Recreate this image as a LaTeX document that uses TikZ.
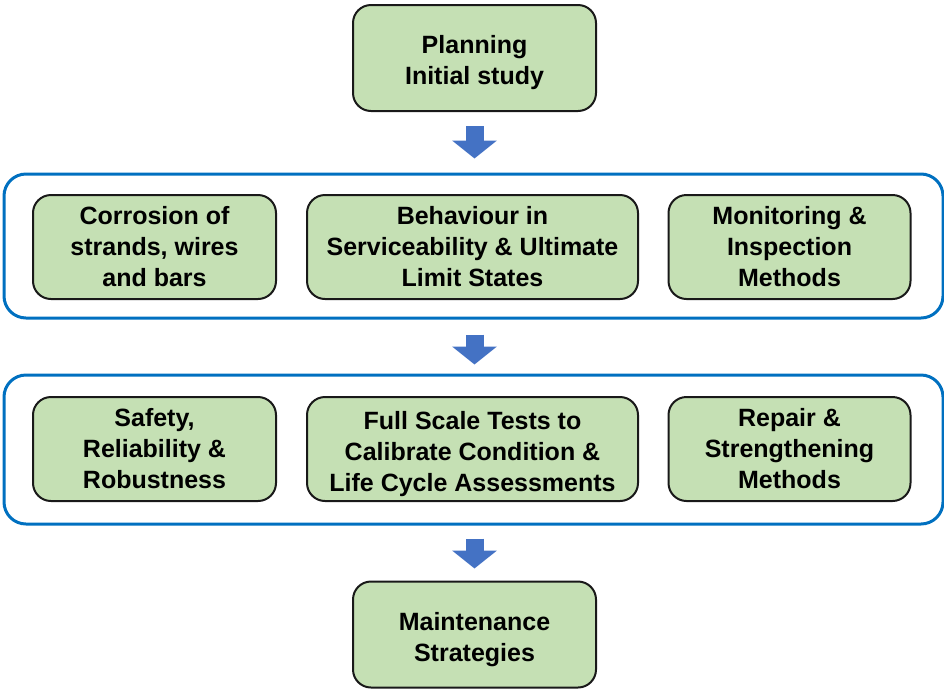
\documentclass[tikz,border=0pt]{standalone}
\usepackage{fontspec}
\setmainfont{Liberation Sans}
\usetikzlibrary{arrows.meta,positioning}
\definecolor{box-green}{RGB}{197, 224, 180}
\definecolor{frame-blue}{RGB}{0, 112, 192}
\definecolor{arrow-blue}{RGB}{68, 114, 196}
\newcommand{\lowstrut}{\rule{0pt}{28pt}}

\begin{document}
\begin{tikzpicture}[
        x=1pt, y=-1pt,
        node distance=29pt,
        box/.style={draw=black!90, line width=2pt, fill=box-green, rectangle, rounded corners=18pt, minimum height=104pt, minimum width=243pt, align=center, inner sep=0pt, font=\fontsize{25}{31}\selectfont\bfseries},
        container/.style={draw=frame-blue, line width=3pt, rectangle, rounded corners=22pt, minimum width=939pt},
        bigarrow/.style={-{Triangle[width=44pt, length=18pt]}, line width=18pt, arrow-blue}
    ]
        \useasboundingbox (0,0) rectangle (944,689);

        % Start and end
        \node[box, minimum height=106pt] (plan) at (474.5,58) {\lowstrut Planning\\Initial study};
        \node[box, minimum height=106pt] (maint) at (474.5,634.5) {\lowstrut Maintenance\\Strategies};

        % First group
        \node[container, minimum height=144pt] (row1) at (473.5,246) {};
        \node[box, minimum width=331pt] (behave) at (472.5,247) {Behaviour in\\Serviceability \& Ultimate\\Limit States};
        \node[box, left=of behave] (corrode) {Corrosion of\\strands, wires\\and bars};
        \node[box, right=28.5pt of behave, minimum width=242pt] (monitor) {Monitoring \&\\Inspection\\Methods};

        % Second group
        \node[container, minimum height=149pt] (row2) at (473.5,449.5) {};
        \node[box, minimum width=331pt] (tests) at (472.5,449) {\lowstrut Full Scale Tests to\\Calibrate Condition \&\\Life Cycle Assessments};
        \node[box, left=of tests] (safety) {Safety,\\Reliability \&\\Robustness};
        \node[box, right=28.5pt of tests, minimum width=242pt] (repair) {Repair \&\\Strengthening\\Methods};

        % Block arrows between the stages
        \draw[bigarrow, shorten <=14pt, shorten >=14pt] (plan.south) -- (row1.north -| plan.south);
        \draw[bigarrow, shorten <=15pt, shorten >=9pt] (row1.south -| plan.south) -- (row2.north -| plan.south);
        \draw[bigarrow, shorten <=13pt, shorten >=12pt] (row2.south -| plan.south) -- (maint.north);
    \end{tikzpicture}
\end{document}
